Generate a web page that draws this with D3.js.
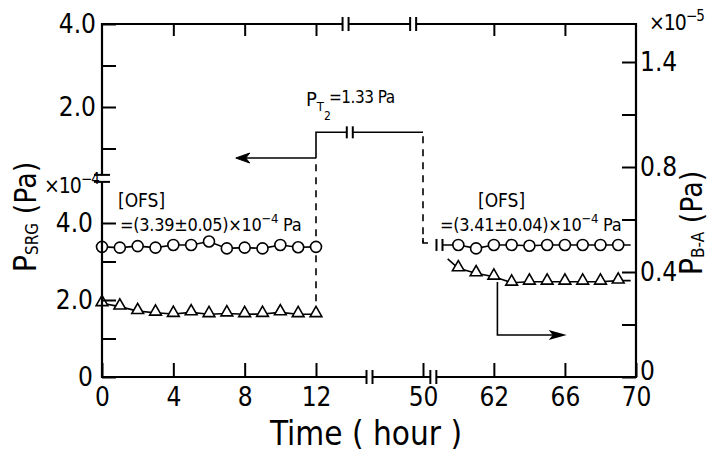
<!DOCTYPE html>
<html>
<head>
<meta charset="utf-8">
<script src="https://cdn.jsdelivr.net/npm/d3@7"></script>
<style>
  body { margin: 0; background: #fff; }
  svg text { font-family: "DejaVu Sans Condensed", "Liberation Sans Narrow", "DejaVu Sans", sans-serif; fill: #000; }
</style>
</head>
<body>
<svg id="chart" width="713" height="452"></svg>
<script>
// ---- data ----
var hoursA     = [0, 1, 2, 3, 4, 5, 6, 7, 8, 9, 10, 11, 12];
var circlesA   = [3.38, 3.36, 3.40, 3.36, 3.43, 3.43, 3.52, 3.34, 3.36, 3.34, 3.43, 3.37, 3.38];   // P_SRG x1e-4 Pa
var trianglesA = [0.281, 0.268, 0.251, 0.245, 0.240, 0.246, 0.239, 0.242, 0.239, 0.240, 0.246, 0.239, 0.239]; // P_B-A x1e-5 Pa

var hoursC     = [60, 61, 62, 63, 64, 65, 66, 67, 68, 69];
var circlesC   = [3.43, 3.34, 3.43, 3.43, 3.41, 3.43, 3.43, 3.43, 3.43, 3.43];
var trianglesC = [0.414, 0.395, 0.382, 0.359, 0.363, 0.363, 0.363, 0.363, 0.363, 0.367];
var triangleCurveStart = [59.4, 0.45];
var lineEndHour = 69.7;

var stepHours = [12, 50];   // P_T2 raised to 1.33 Pa
var stepLevel = 1.39;       // as drawn, on the upper Pa scale

var xTicks       = [0, 4, 8, 12, 50, 62, 66, 70];
var xTickLabels  = ["0", "4", "8", "12", "50", "62", "66", "70"];
var topTicks     = [4, 8, 12, 62, 66];
var leftTopTicks = [1, 2, 3, 4];
var leftTopLabels = ["", "2.0", "", "4.0"];
var leftLowTicks = [0, 1, 2, 3, 4];
var leftLowLabels = ["0", "", "2.0", "", "4.0"];
var rightTicks   = [0, 0.2, 0.4, 0.6, 0.8, 1.0, 1.2];
var rightLabels  = ["0", "", "0.4", "", "0.8", "", "1.4"];

// ---- scales ----
var x = d3.scaleLinear().domain([0, 12, 50, 58.8, 70]).range([102, 316, 423, 437, 636]);
var yTop = d3.scaleLinear().domain([0, 4]).range([190, 24]);
var yLow = d3.scaleLinear().domain([0, 4]).range([377, 223]);
var yRight = d3.scaleLinear().domain([0, 1.2]).range([377, 62]);

var svg = d3.select("#chart");
var ink = "#000";

function tidy(g, size) {
  g.attr("font-family", null).attr("font-size", null);
  g.select(".domain").remove();
  g.selectAll(".tick line").attr("stroke", ink).attr("stroke-width", 2);
  g.selectAll(".tick text").style("font-size", size + "px");
}

// ---- data lines ----
var lineA = d3.line().x(function(d){ return x(d[0]); }).y(function(d){ return d[1]; });

function pts(hours, vals, sc) {
  return hours.map(function(h, i){ return [h, sc(vals[i])]; });
}

var circA = pts(hoursA, circlesA, yLow);
var triA  = pts(hoursA, trianglesA, yRight);
var circC = pts(hoursC, circlesC, yLow);
var triC  = pts(hoursC, trianglesC, yRight);

var lines = [
  circA,
  triA,
  [[58.94, yLow(circlesC[0])]].concat(circC, [[lineEndHour, yLow(circlesC[circlesC.length - 1])]]),
  [[triangleCurveStart[0], yRight(triangleCurveStart[1])]].concat(triC, [[lineEndHour, yRight(trianglesC[trianglesC.length - 1])]])
];
svg.selectAll("path.series").data(lines).enter().append("path")
  .attr("class", "series")
  .attr("d", function(d){ return lineA(d); })
  .attr("fill", "none")
  .attr("stroke", ink)
  .attr("stroke-width", 1.6);

// P_T2 step (upper scale) with dashed legs
var stepY = yTop(stepLevel);
var arrowY = yTop(0.77);
svg.append("line")
  .attr("x1", x(stepHours[0])).attr("y1", yRight(trianglesA[12]))
  .attr("x2", x(stepHours[0])).attr("y2", arrowY)
  .attr("stroke", ink).attr("stroke-width", 1.6).attr("stroke-dasharray", "7,6");
var step = d3.path();
step.moveTo(x(stepHours[0]), arrowY);
step.lineTo(x(stepHours[0]), stepY);
step.lineTo(x(stepHours[1]), stepY);
svg.append("path").attr("d", step.toString()).attr("fill", "none").attr("stroke", ink).attr("stroke-width", 1.6);
svg.append("line")
  .attr("x1", x(stepHours[1])).attr("y1", stepY + 4)
  .attr("x2", x(stepHours[1])).attr("y2", yLow(3.48))
  .attr("stroke", ink).attr("stroke-width", 1.6).attr("stroke-dasharray", "7,6");
svg.append("path")
  .attr("d", "M" + x(stepHours[1]) + "," + (yLow(3.48) - 5) + "V" + yLow(3.48) + "H" + (x(stepHours[1]) + 5))
  .attr("fill", "none").attr("stroke", ink).attr("stroke-width", 1.6);

// left arrow (to left axis)
svg.append("line")
  .attr("x1", x(stepHours[0])).attr("y1", arrowY)
  .attr("x2", x(7.5) + 2).attr("y2", arrowY)
  .attr("stroke", ink).attr("stroke-width", 1.6);
svg.append("path")
  .attr("d", "M" + x(7.5) + "," + arrowY + "l14,-5 l-4,5 l4,5z")
  .attr("fill", ink).attr("stroke", ink).attr("stroke-width", 1);

// right arrow (to right axis)
var ra = d3.path();
ra.moveTo(x(62.2), yRight(0.362));
ra.lineTo(x(62.2), yRight(0.16));
ra.lineTo(x(66.1) - 10, yRight(0.16));
svg.append("path").attr("d", ra.toString()).attr("fill", "none").attr("stroke", ink).attr("stroke-width", 1.6);
svg.append("path")
  .attr("d", "M" + x(66.1) + "," + yRight(0.16) + "l-18,-5 l4,5 l-4,5z")
  .attr("fill", ink);

// ---- markers ----
svg.selectAll("circle.pt").data(circA.concat(circC)).enter().append("circle")
  .attr("class", "pt")
  .attr("cx", function(d){ return x(d[0]); })
  .attr("cy", function(d){ return d[1]; })
  .attr("r", 5.5)
  .attr("fill", "#fff").attr("stroke", ink).attr("stroke-width", 1.6);

var tri = d3.symbol().type(d3.symbolTriangle).size(60);
svg.selectAll("path.tri").data(triA.concat(triC)).enter().append("path")
  .attr("class", "tri")
  .attr("transform", function(d){ return "translate(" + x(d[0]) + "," + (d[1] - 1) + ")"; })
  .attr("d", tri)
  .attr("fill", "#fff").attr("stroke", ink).attr("stroke-width", 1.6);

// ---- axes ----
svg.append("g").attr("transform", "translate(0,377)")
  .call(d3.axisBottom(x).tickValues(xTicks).tickSize(-14).tickPadding(11)
    .tickFormat(function(d, i){ return xTickLabels[i]; }))
  .call(tidy, 26);

svg.append("g").attr("transform", "translate(0,24)")
  .call(d3.axisTop(x).tickValues(topTicks).tickSize(-12).tickFormat(""))
  .call(tidy, 26);

svg.append("g").attr("transform", "translate(102,0)")
  .call(d3.axisLeft(yTop).tickValues(leftTopTicks).tickSize(-14).tickPadding(6)
    .tickFormat(function(d, i){ return leftTopLabels[i]; }))
  .call(tidy, 26);

svg.append("g").attr("transform", "translate(102,0)")
  .call(d3.axisLeft(yLow).tickValues(leftLowTicks).tickSize(-14).tickPadding(9)
    .tickFormat(function(d, i){ return leftLowLabels[i]; }))
  .call(tidy, 26);

svg.append("g").attr("transform", "translate(636,0)")
  .call(d3.axisRight(yRight).tickValues(rightTicks).tickSize(-14).tickPadding(4)
    .tickFormat(function(d, i){ return rightLabels[i]; }))
  .call(tidy, 26)
  .call(function(g){ g.selectAll(".tick text").filter(function(d){ return d === 0; }).attr("dy", "0.1em"); });

// frame lines
var frame = d3.path();
frame.moveTo(102, yLow(0)); frame.lineTo(102, yTop(4));
frame.lineTo(636, yTop(4)); frame.lineTo(636, yRight(0)); frame.closePath();
svg.append("path").attr("d", frame.toString()).attr("fill", "none").attr("stroke", ink).attr("stroke-width", 2.2);

// axis breaks
function breakV(cx, cy, h) {
  svg.append("rect").attr("x", cx - 3).attr("y", cy - 3).attr("width", 6).attr("height", 6).attr("fill", "#fff");
  [-3, 3].forEach(function(o){
    svg.append("line").attr("x1", cx + o).attr("x2", cx + o).attr("y1", cy - h / 2).attr("y2", cy + h / 2)
      .attr("stroke", ink).attr("stroke-width", 2);
  });
}
function breakH(cx, cy, w) {
  svg.append("rect").attr("x", cx - 3).attr("y", cy - 3).attr("width", 6).attr("height", 6).attr("fill", "#fff");
  [-3.5, 3.5].forEach(function(o){
    svg.append("line").attr("y1", cy + o).attr("y2", cy + o).attr("x1", cx - w / 2).attr("x2", cx + w / 2)
      .attr("stroke", ink).attr("stroke-width", 2);
  });
}
breakV(x(22.5), yTop(4), 14);
breakV(x(46.5), yTop(4), 14);
breakV(x(31), yLow(0), 14);
breakV(x(56.5), yLow(0), 14);
breakV(x(24), stepY, 12);
breakV(x(58.94), yLow(circlesC[0]), 12);
breakH(102, yTop(0.28), 16);

// ---- text ----
function rich(parent, parts, attrs) {
  var t = parent.append("text");
  Object.keys(attrs).forEach(function(k){ t.attr(k, attrs[k]); });
  parts.forEach(function(p){
    var s = t.append("tspan").text(p[0]);
    if (p[1]) s.style("font-size", p[1] + "px");
    if (p[2]) s.attr("dy", p[2]);
    if (p[3]) s.attr("dx", p[3]);
  });
  return t;
}

// scale multipliers
rich(svg, [["×10", 21], ["−4", 15, -9]], { x: 44, y: 193, "letter-spacing": -1 });
rich(svg, [["×10", 21], ["−5", 15, -9]], { x: 649, y: 30, "letter-spacing": -1 });

// axis titles
rich(svg, [["P", 32], ["SRG", 17, 2], ["  (Pa)", 30, -2]],
  { transform: "translate(36,217) rotate(-90)", "text-anchor": "middle" });
rich(svg, [["P", 32], ["B-A", 17, 2], ["  (Pa)", 30, -2]],
  { transform: "translate(702,223) rotate(-90)", "text-anchor": "middle" });
rich(svg, [["Time ( hour )", 33]], { x: 366, y: 445, "text-anchor": "middle" });

// annotations
rich(svg, [["P", 20], ["T", 13, 5], ["2", 12, 9]], { x: 306, y: 106 });
rich(svg, [["=1.33 Pa", 17]], { x: 329, y: 103, "letter-spacing": -0.5 });
rich(svg, [["[OFS]", 19]], { x: 118, y: 207 });
rich(svg, [["=(3.39±0.05)×10", 18], ["−4", 13, -8], [" Pa", 18, 8]], { x: 120, y: 231, "letter-spacing": -0.3 });
rich(svg, [["[OFS]", 19]], { x: 478, y: 207 });
rich(svg, [["=(3.41±0.04)×10", 18], ["−4", 13, -8], [" Pa", 18, 8]], { x: 440, y: 231, "letter-spacing": -0.3 });
</script>
</body>
</html>
